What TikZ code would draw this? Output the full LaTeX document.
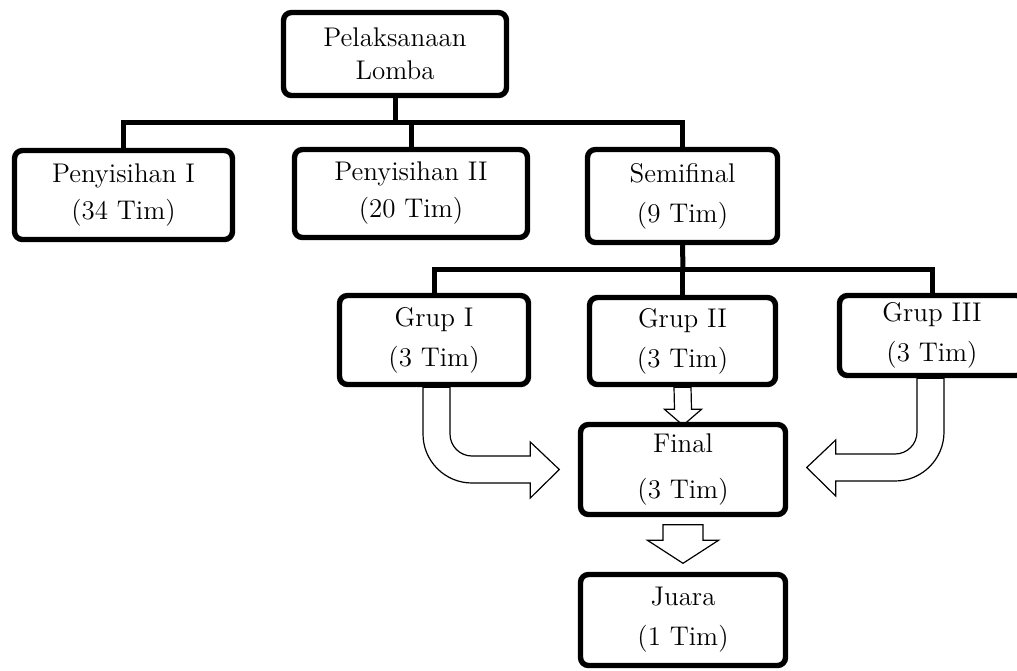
\documentclass[tikz,border=0pt]{standalone}
\usepackage{tikz}
\usetikzlibrary{calc,backgrounds}

\begin{document}
\begin{tikzpicture}[x=0.5pt,y=-0.5pt,
	box/.style={draw,line width=2.7pt,rounded corners=4pt,align=center,inner sep=0pt,font=\fontsize{13.5}{20}\selectfont},
	link/.style={line width=2.5pt},
	blok/.style={draw,line width=0.6pt,fill=white}]
	
	\useasboundingbox (0,0) rectangle (1017,670);
	
	% boxes
	\node[box,minimum width=111.5pt,minimum height=41.5pt] (lomba) at (395,54) {Pelaksanaan\\[-3.5pt]Lomba};
	\node[box,minimum width=109pt,minimum height=44.5pt] (p1) at (123.5,195) {Penyisihan I\\[-1.5pt](34 Tim)};
	\node[box,minimum width=116.5pt,minimum height=44pt] (p2) at (411,193.5) {Penyisihan II\\[-1.5pt](20 Tim)};
	\node[box,minimum width=95pt,minimum height=46.5pt] (semi) at (682.5,196) {Semifinal\\(9 Tim)};
	\node[box,minimum width=94.5pt,minimum height=44.5pt] (g1) at (434,340) {Grup I\\(3 Tim)};
	\node[box,minimum width=93pt,minimum height=43.5pt] (g2) at (682.5,341) {Grup II\\(3 Tim)};
	\node[box,minimum width=92.5pt,minimum height=40pt] (g3) at (932,335.5) {Grup III\\(3 Tim)};
	\node[box,minimum width=102.5pt,minimum height=45pt] (final) at (683,469.5) {Final\\[3pt](3 Tim)};
	\node[box,minimum width=102.5pt,minimum height=45.5pt] (juara) at (683,620) {Juara\\(1 Tim)};
	
	% tree lines
	\coordinate (bus1) at (395,122.5);
	\draw[link] (lomba.south) -- (bus1);
	\foreach \n in {p1,p2,semi} \draw[link] (\n.north) |- (bus1);
	\coordinate (bus2) at (683,269);
	\draw[link] (semi.south) -- (bus2);
	\foreach \n in {g1,g2,g3} \draw[link] (\n.north) |- (bus2);
	
	% block arrows
	\begin{scope}[on background layer]
	\coordinate (tA) at ($(final.north)+(0,3.5)$);
	\draw[blok] ($(g2.south)+(-8.5,0)$) -- ($(tA)+(-8.5,-16)$) -- ++(-10,0) -- (tA)
		-- ($(tA)+(18.5,-16)$) -- ++(-10,0) -- ($(g2.south)+(8.5,0)$) -- cycle;
	
	\coordinate (tB) at ($(juara.north)+(0,-8.5)$);
	\draw[blok] ($(final.south)+(-20,7.5)$) -- ($(tB)+(-20,-23)$) -- ++(-15.5,0) -- (tB)
		-- ($(tB)+(35.5,-23)$) -- ++(-15.5,0) -- ($(final.south)+(20,7.5)$) -- cycle;
	
	\coordinate (gA) at ($(g1.south)+(2.5,0)$);
	\coordinate (fA) at ($(final.west)+(-18.5,0)$);
	\draw[blok] ($(gA)+(-13.5,0)$) -- ($(gA |- fA)+(-13.5,-35.5)$) arc[start angle=180,end angle=90,radius=49]
		-- ($(fA)+(-29,13.5)$) -- ++(0,15) -- (fA) -- ($(fA)+(-29,-27.5)$) -- ++(0,14)
		-- ($(gA |- fA)+(35.5,-13.5)$) arc[start angle=90,end angle=180,radius=22] -- ($(gA)+(13.5,0)$) -- cycle;
	
	\coordinate (gB) at ($(g3.south)+(-1.5,0)$);
	\coordinate (fB) at ($(final.east)+(18.5,-2)$);
	\draw[blok] ($(gB)+(13.5,0)$) -- ($(gB |- fB)+(13.5,-35.5)$) arc[start angle=0,end angle=90,radius=49]
		-- ($(fB)+(29,13.5)$) -- ++(0,15) -- (fB) -- ($(fB)+(29,-27.5)$) -- ++(0,14)
		-- ($(gB |- fB)+(-35.5,-13.5)$) arc[start angle=90,end angle=0,radius=22] -- ($(gB)+(-13.5,0)$) -- cycle;
	\end{scope}
	
\end{tikzpicture}
\end{document}
